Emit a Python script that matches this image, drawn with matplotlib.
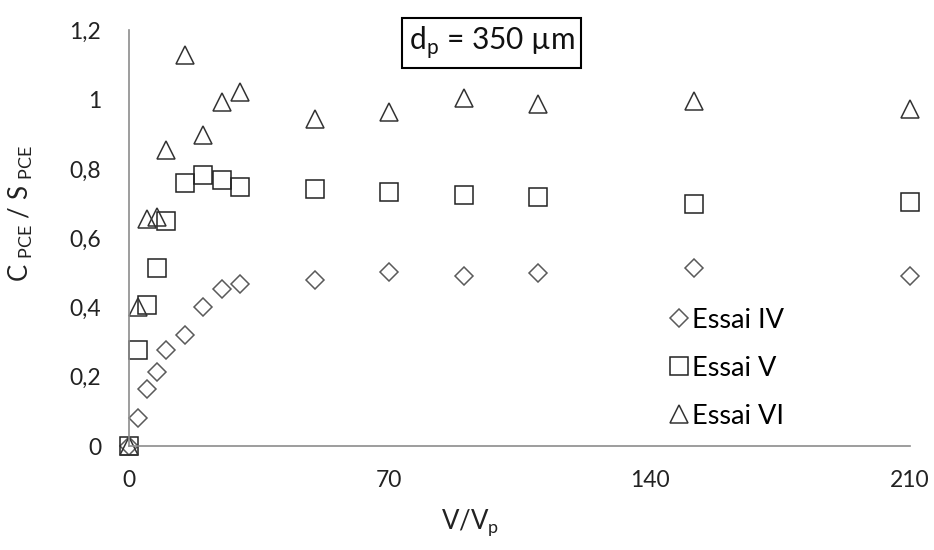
import matplotlib.pyplot as plt
from matplotlib.ticker import FuncFormatter

plt.rcParams['font.family'] = ['Lato', 'DejaVu Sans']

# ---------------- données ----------------
x_vals = [0, 2.5, 5, 7.5, 10, 15, 20, 25, 30, 50, 70, 90, 110, 152, 210]
essai_iv = [0, 0.08, 0.166, 0.214, 0.277, 0.32, 0.402, 0.452, 0.469, 0.479, 0.503, 0.49, 0.499, 0.513, 0.49]
essai_v = [0, 0.277, 0.407, 0.515, 0.65, 0.76, 0.782, 0.767, 0.748, 0.743, 0.734, 0.724, 0.718, 0.70, 0.704]
essai_vi = [0, 0.402, 0.654, 0.661, 0.854, 1.128, 0.897, 0.993, 1.022, 0.945, 0.964, 1.004, 0.986, 0.995, 0.972]

x_ticks = [0, 70, 140, 210]
y_ticks = [0, 0.2, 0.4, 0.6, 0.8, 1.0, 1.2]

# ---------------- figure ----------------
fig = plt.figure(figsize=(9.34, 5.5), dpi=100)
ax = fig.add_axes([0.138, 0.189, 0.836, 0.756])

ax.plot(x_vals, essai_iv, 'D', ms=9.2, mfc='none', mec='#5a5a5a', mew=1.1,
        ls='none', clip_on=False, label='Essai IV')
ax.plot(x_vals, essai_v, 's', ms=13, mfc='none', mec='#222222', mew=1.1,
        ls='none', clip_on=False, label='Essai V')
ax.plot(x_vals, essai_vi, '^', ms=13, mfc='none', mec='#333333', mew=1.1,
        ls='none', clip_on=False, label='Essai VI')

ax.set_xlim(0, 210)
ax.set_ylim(0, 1.2)
ax.set_xticks(x_ticks)
ax.set_yticks(y_ticks)

def virgule(v, pos):
    s = ('%g' % round(v, 2))
    return s.replace('.', ',')

ax.yaxis.set_major_formatter(FuncFormatter(virgule))
ax.tick_params(length=0, labelsize=16.5, colors='#222222')
ax.tick_params(axis='x', pad=17)
ax.tick_params(axis='y', pad=20)

for s in ['top', 'right']:
    ax.spines[s].set_visible(False)
for s in ['left', 'bottom']:
    ax.spines[s].set_color('#8c8c8c')
    ax.spines[s].set_linewidth(1.2)

ax.set_xlabel(r'V/V$_\mathregular{p}$', fontsize=18.5, color='#222222')
ax.set_ylabel(r'C$_\mathregular{\ PCE}$ / S$_\mathregular{\ PCE}$', fontsize=18.5,
              color='#222222')
ax.xaxis.set_label_coords(0.437, -0.147)
ax.yaxis.set_label_coords(-0.12, 0.56)

ax.text(0.465, 0.969, r'd$_\mathregular{p}$ = 350 µm', transform=ax.transAxes,
        fontsize=21.5, ha='center', va='center', color='#111111',
        bbox=dict(boxstyle='square,pad=0.22', fc='white', ec='black', lw=1.5))

ax.legend(loc='center left', bbox_to_anchor=(0.673, 0.1875), frameon=False,
          fontsize=19.5, handletextpad=0.0, labelspacing=0.85, handlelength=1.0,
          borderaxespad=0.0)

fig.savefig('out.png', dpi=100)
